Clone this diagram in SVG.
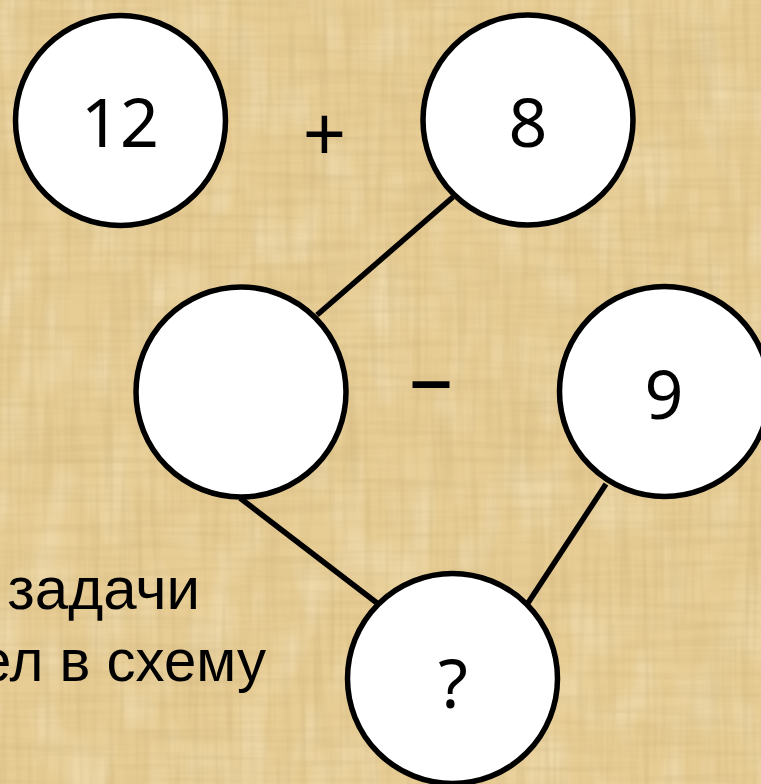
<svg xmlns="http://www.w3.org/2000/svg" width="761" height="784" viewBox="0 0 761 784">
  <defs>
    <filter id="vstreak" x="0" y="0" width="100%" height="100%">
      <feTurbulence type="fractalNoise" baseFrequency="0.14 0.008" numOctaves="2" seed="3"/>
      <feColorMatrix type="matrix" values="0 0 0 0 0.6  0 0 0 0 0.45  0 0 0 0 0.2  0.8 0 0 0 -0.33"/>
    </filter>
    <filter id="hstreak" x="0" y="0" width="100%" height="100%">
      <feTurbulence type="fractalNoise" baseFrequency="0.008 0.14" numOctaves="2" seed="7"/>
      <feColorMatrix type="matrix" values="0 0 0 0 0.6  0 0 0 0 0.45  0 0 0 0 0.2  0.7 0 0 0 -0.29"/>
    </filter>
    <filter id="light" x="0" y="0" width="100%" height="100%">
      <feTurbulence type="fractalNoise" baseFrequency="0.03 0.015" numOctaves="2" seed="11"/>
      <feColorMatrix type="matrix" values="0 0 0 0 1  0 0 0 0 0.95  0 0 0 0 0.8  0.7 0 0 0 -0.3"/>
    </filter>
  </defs>
  <style>
    .node circle { fill: #ffffff; stroke: #000000; stroke-width: 5.5; }
    .num { font-family: "Noto Sans", "Open Sans", sans-serif; font-size: 68px; fill: #000000; text-anchor: middle; }
    .op { font-family: "Noto Sans", "Open Sans", sans-serif; fill: #000000; text-anchor: middle; }
    .txt { font-family: "Liberation Sans", Arial, sans-serif; font-size: 60px; fill: #000000; text-anchor: end; }
    .edges line { stroke: #000000; stroke-width: 5.5; }
  </style>

  <g id="background">
    <rect x="0" y="0" width="761" height="784" fill="#E7CC93"/>
    <rect x="0" y="0" width="761" height="784" filter="url(#light)"/>
    <rect x="0" y="0" width="761" height="784" filter="url(#vstreak)"/>
    <rect x="0" y="0" width="761" height="784" filter="url(#hstreak)"/>
  </g>

  <g id="caption">
    <text class="txt" x="200" y="609">задачи</text>
    <text class="txt" x="266" y="681" textLength="287" lengthAdjust="spacingAndGlyphs">ел в схему</text>
  </g>

  <g id="connectors" class="edges">
    <line x1="453" y1="197" x2="317" y2="315"/>
    <line x1="240" y1="498" x2="377" y2="603"/>
    <line x1="606" y1="484" x2="528" y2="603"/>
  </g>

  <g id="node-12" class="node">
    <circle cx="120.5" cy="120.5" r="105"/>
    <text class="num" x="120" y="147">12</text>
  </g>

  <g id="op-plus">
    <text class="op" x="324.5" y="162" font-size="76">+</text>
  </g>

  <g id="node-8" class="node">
    <circle cx="528" cy="120" r="105"/>
    <text class="num" x="528" y="147">8</text>
  </g>

  <g id="node-empty" class="node">
    <circle cx="241" cy="392" r="105"/>
  </g>

  <g id="op-minus">
    <text class="op" x="431" y="408" font-size="88" textLength="44" lengthAdjust="spacingAndGlyphs">–</text>
  </g>

  <g id="node-9" class="node">
    <circle cx="664.5" cy="391.5" r="105"/>
    <text class="num" x="664" y="419">9</text>
  </g>

  <g id="node-question" class="node">
    <circle cx="452.5" cy="678.5" r="105"/>
    <text class="num" x="453" y="708">?</text>
  </g>
</svg>
